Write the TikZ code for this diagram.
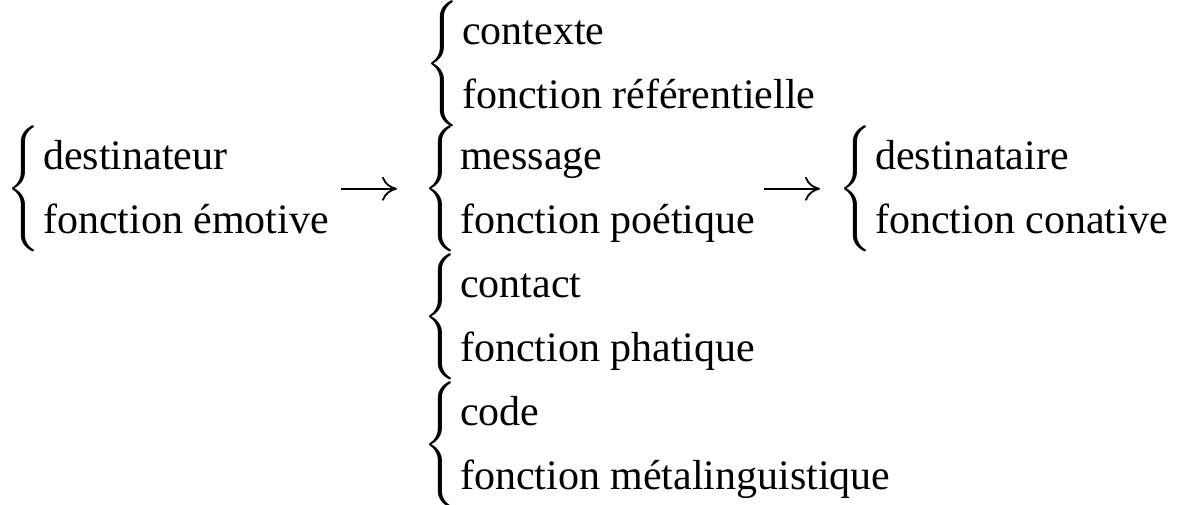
\documentclass[tikz,border=0pt]{standalone}
\usepackage{fontspec}
\setmainfont{Liberation Serif}
\DeclareFontShape{OMX}{cmex}{m}{n}{<->cmex10}{}
\usetikzlibrary{positioning,arrows.meta}
\newcommand{\fonction}[2]{$\delimiterfactor=880\relax\delimitershortfall=20pt\relax
    \left\{\begin{tabular}{@{\hspace{3pt}}l@{}}#1\\#2\end{tabular}\right.$}

\begin{document}
\begin{tikzpicture}[
    x=1pt, y=-1pt,
    % Groups: brace + two lines (factor / function)
    groupe/.style={
        inner sep=0pt, anchor=base west,
        font=\fontsize{42}{64}\selectfont
    },
    fleche/.style={-{To[length=15pt,width=24pt]}, line width=1.8pt}
]
    \useasboundingbox (0,0) rectangle (1183,504);

    % --- Central column ---
    \node[groupe] (Contexte) at (425,70) {\fonction{contexte}{fonction référentielle}};
    \node[groupe] (Message) at (423,195) {\fonction{message}{fonction poétique}};
    \node[groupe] (Contact) at (423,323) {\fonction{contact}{fonction phatique}};
    \node[groupe] (Code) at (423,451) {\fonction{code}{fonction métalinguistique}};

    % --- Sender and receiver ---
    \node[groupe] (Destinateur) at (6,195) {\fonction{destinateur}{fonction émotive}};
    \node[groupe] (Destinataire) at (838,195) {\fonction{destinataire}{fonction conative}};

    % --- Arrows ---
    \draw[fleche, shorten <=11pt, shorten >=26pt] (Destinateur.east) -- (Message.west);
    \draw[fleche, shorten <=7pt, shorten >=18pt] (Message.east) -- (Destinataire.west);

\end{tikzpicture}
\end{document}
